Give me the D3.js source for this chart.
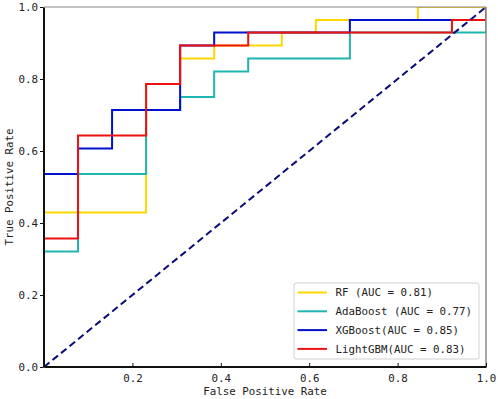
<!DOCTYPE html>
<html lang="en">
<head>
  <meta charset="utf-8">
  <title>ROC Curves</title>
  <script src="https://d3js.org/d3.v7.min.js"></script>
  <style type="text/css">
    body { margin: 0; background: white; }
    text { font-family: "DejaVu Sans Mono", "Liberation Mono", monospace; fill: #222; }
  </style>
</head>
<body>
  <script type="text/javascript">

// ROC corner points
const rfFpr = [0, 0, 0.231, 0.231, 0.308, 0.308, 0.385, 0.385, 0.538, 0.538, 0.615, 0.615, 0.846, 0.846, 1.0];
const rfTpr = [0, 0.429, 0.429, 0.786, 0.786, 0.857, 0.857, 0.893, 0.893, 0.929, 0.929, 0.964, 0.964, 1.0, 1.0];

const adaFpr = [0, 0, 0.077, 0.077, 0.231, 0.231, 0.308, 0.308, 0.385, 0.385, 0.462, 0.462, 0.692, 0.692, 1.0, 1.0];
const adaTpr = [0, 0.321, 0.321, 0.536, 0.536, 0.714, 0.714, 0.750, 0.750, 0.821, 0.821, 0.857, 0.857, 0.929, 0.929, 1.0];

const xgbFpr = [0, 0, 0.077, 0.077, 0.154, 0.154, 0.308, 0.308, 0.385, 0.385, 0.692, 0.692, 1.0, 1.0];
const xgbTpr = [0, 0.536, 0.536, 0.607, 0.607, 0.714, 0.714, 0.893, 0.893, 0.929, 0.929, 0.964, 0.964, 1.0];

const lgbFpr = [0, 0, 0.077, 0.077, 0.231, 0.231, 0.308, 0.308, 0.462, 0.462, 0.923, 0.923, 1.0, 1.0];
const lgbTpr = [0, 0.357, 0.357, 0.643, 0.643, 0.786, 0.786, 0.893, 0.893, 0.929, 0.929, 0.964, 0.964, 1.0];

const labels = ["RF (AUC = 0.81)", "AdaBoost (AUC = 0.77)", "XGBoost(AUC = 0.85)", "LightGBM(AUC = 0.83)"];
const colors = ["#ffd700", "#20b5b0", "#0010cc", "#ee1111"];

const xTicks = [0.2, 0.4, 0.6, 0.8, 1.0];
const yTicks = [0.0, 0.2, 0.4, 0.6, 0.8, 1.0];

const series = [
  { fpr: rfFpr, tpr: rfTpr },
  { fpr: adaFpr, tpr: adaTpr },
  { fpr: xgbFpr, tpr: xgbTpr },
  { fpr: lgbFpr, tpr: lgbTpr }
];

const svgWidth = 498;
const svgHeight = 399;
const plotLeft = 44, plotRight = 486, plotTop = 7, plotBottom = 367;

const svg = d3.select("body")
    .append("svg")
    .attr("width", svgWidth)
    .attr("height", svgHeight);

svg.append("clipPath")
    .attr("id", "plot-clip")
  .append("rect")
    .attr("x", plotLeft)
    .attr("y", plotTop)
    .attr("width", plotRight - plotLeft)
    .attr("height", plotBottom - plotTop);

const xScale = d3.scaleLinear().domain([0, 1]).range([plotLeft, plotRight]);
const yScale = d3.scaleLinear().domain([0, 1]).range([plotBottom, plotTop]);

const line = d3.line()
    .x(d => xScale(d[0]))
    .y(d => yScale(d[1]));

const plot = svg.append("g").attr("clip-path", "url(#plot-clip)");

// curves
series.forEach((s, i) => {
  const pts = s.fpr.map((f, j) => [f, s.tpr[j]]);
  plot.append("path")
      .datum(pts)
      .attr("fill", "none")
      .attr("stroke", colors[i])
      .attr("stroke-width", 2)
      .attr("d", line);
});

// chance diagonal
plot.append("path")
    .datum([[0, 0], [1, 1]])
    .attr("fill", "none")
    .attr("stroke", "#0a0a78")
    .attr("stroke-width", 2)
    .attr("stroke-dasharray", "7,4")
    .attr("d", line);

// top / right frame
svg.append("line")
    .attr("x1", plotLeft).attr("x2", plotRight).attr("y1", plotTop).attr("y2", plotTop)
    .attr("stroke", "#888").attr("stroke-width", 1.2);
svg.append("line")
    .attr("x1", plotRight).attr("x2", plotRight).attr("y1", plotTop).attr("y2", plotBottom)
    .attr("stroke", "#888").attr("stroke-width", 1.5);

// axes
const xAxis = d3.axisBottom(xScale)
    .tickValues(xTicks)
    .tickSizeInner(-3.5)
    .tickSizeOuter(0)
    .tickPadding(8)
    .tickFormat(d3.format(".1f"));

const gx = svg.append("g")
    .attr("transform", `translate(0, ${plotBottom - 0.5})`)
    .call(xAxis);

const yAxis = d3.axisLeft(yScale)
    .tickValues(yTicks)
    .tickSizeInner(3.5)
    .tickSizeOuter(0)
    .tickPadding(2)
    .tickFormat(d3.format(".1f"));

const gy = svg.append("g")
    .attr("transform", `translate(${plotLeft - 0.5}, 0)`)
    .call(yAxis);

[gx, gy].forEach(g => {
  g.select(".domain").attr("stroke", "#111").attr("stroke-width", 2);
  g.selectAll(".tick line").attr("stroke", "#111").attr("stroke-width", 1);
  g.selectAll(".tick text")
      .style("font-family", "'DejaVu Sans Mono', monospace")
      .style("font-size", "10.8px")
      .attr("fill", "#222");
});

svg.append("text")
    .attr("text-anchor", "middle")
    .attr("x", (plotLeft + plotRight) / 2)
    .attr("y", 395)
    .style("font-size", "10.8px")
    .text("False Positive Rate");

svg.append("text")
    .attr("text-anchor", "middle")
    .attr("transform", `translate(13, ${(plotTop + plotBottom) / 2}) rotate(-90)`)
    .style("font-size", "10.8px")
    .text("True Positive Rate");

// legend
const legend = svg.append("g")
    .attr("transform", "translate(294, 283)");

legend.append("rect")
    .attr("width", 185)
    .attr("height", 76)
    .attr("rx", 2)
    .attr("fill", "white")
    .attr("fill-opacity", 0.85)
    .attr("stroke", "#d0d0d0")
    .attr("stroke-width", 1);

labels.forEach((lab, i) => {
  const row = legend.append("g")
      .attr("transform", `translate(0, ${9.5 + i * 18.8})`);
  row.append("line")
      .attr("x1", 3.5).attr("x2", 33)
      .attr("y1", 0).attr("y2", 0)
      .attr("stroke", colors[i])
      .attr("stroke-width", 2);
  row.append("text")
      .attr("x", 41.5)
      .attr("y", 0)
      .attr("dy", "0.35em")
      .style("font-size", "10.8px")
      .text(lab);
});

  </script>
</body>
</html>
